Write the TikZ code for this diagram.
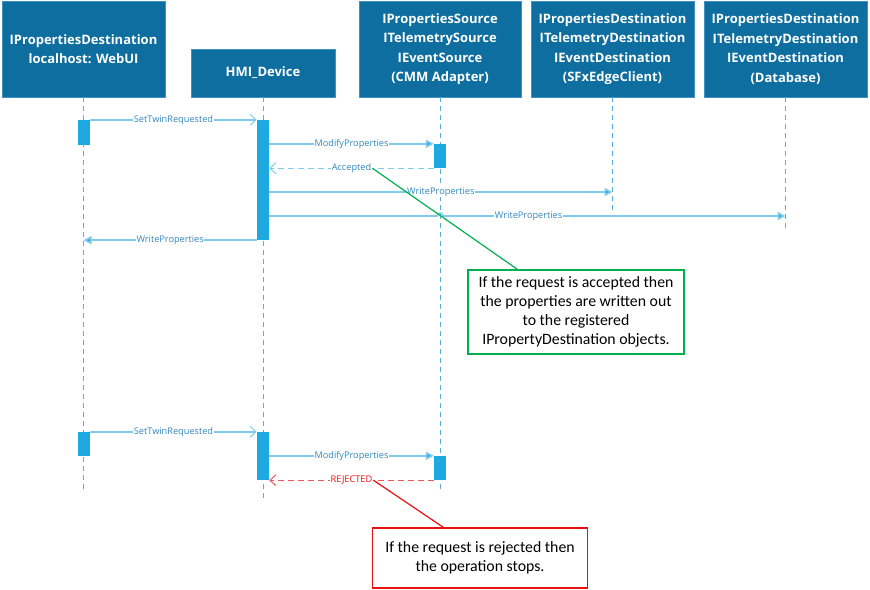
\documentclass[tikz,border=0pt]{standalone}
\usepackage{fontspec}
\setmainfont{Open Sans}
\newfontfamily\notefont{Carlito}
\usetikzlibrary{calc,arrows.meta,positioning}
\definecolor{hdblue}{HTML}{0D6E9F}
\definecolor{hdedge}{HTML}{3D92C2}
\definecolor{actblue}{HTML}{1FA9E1}
\definecolor{msgblue}{HTML}{7FCBEC}
\definecolor{lifeblue}{HTML}{5AAED8}
\definecolor{lblblue}{HTML}{3388C0}
\definecolor{notegreen}{HTML}{00B050}
\definecolor{notered}{HTML}{E81010}

\begin{document}
\begin{tikzpicture}[x=1pt, y=-1pt,
  head/.style={fill=hdblue, draw=hdedge, line width=0.6pt, text=white, align=center,
    font=\fontsize{13}{19.5}\selectfont\bfseries, inner sep=0pt},
  act/.style={fill=actblue, draw=none, minimum width=12pt, inner sep=0pt},
  life/.style={lifeblue, line width=0.8pt, dash pattern=on 5pt off 4pt},
  msg/.style={msgblue, line width=1.6pt, -{Triangle[length=8pt, width=8pt, fill=actblue]}},
  req/.style={msgblue, line width=1.6pt, -{Straight Barb[length=6pt, width=11pt, line width=1pt]}},
  ret/.style={msgblue, line width=1.2pt, dash pattern=on 6pt off 4pt,
    -{Straight Barb[length=6pt, width=11pt, line width=1pt]}},
  lbl/.style={fill=white, text=lblblue, font=\fontsize{9.2}{10}\selectfont, inner sep=0.5pt},
  note/.style={fill=white, line width=1.5pt, align=center, inner sep=0pt,
    font=\notefont\fontsize{15.8}{19}\selectfont, text=black}
]
  \useasboundingbox (0,0) rectangle (870,589);

  % participants
  \node[head, minimum width=163pt, minimum height=96pt] (web) at (83.5,49)
    {IPropertiesDestination\\localhost: WebUI};
  \node[head, minimum width=144pt, minimum height=48pt] (hmi) at (263,73) {HMI\_Device};
  \node[head, minimum width=162pt, minimum height=96pt] (cmm) at (440,49)
    {IPropertiesSource\\ITelemetrySource\\IEventSource\\(CMM Adapter)};
  \node[head, minimum width=163pt, minimum height=96pt] (sfx) at (612.5,49)
    {IPropertiesDestination\\ITelemetryDestination\\IEventDestination\\(SFxEdgeClient)};
  \node[head, minimum width=163pt, minimum height=96pt] (db) at (785.5,49)
    {IPropertiesDestination\\ITelemetryDestination\\IEventDestination\\(Database)};

  % lifelines
  \draw[life] (web.south) -- ++(0,395);
  \draw[life] (hmi.south) -- ++(0,403);
  \draw[life] (cmm.south) -- ++(0,395);
  \draw[life] (sfx.south) -- ++(0,113);
  \draw[life] (db.south) -- ++(0,131);

  % activations, accepted case
  \node[act, minimum height=25pt] (webA) at (84,132.5) {};
  \node[act, minimum height=120pt] (hmiA) at (263,180) {};
  \node[act, minimum height=24pt] (cmmA) at (440,156) {};
  \coordinate (sfxW) at (612.5,192);
  \coordinate (dbW) at (785.5,216);

  % activations, rejected case
  \node[act, minimum height=24pt] (webB) at (84,444) {};
  \node[act, minimum height=48pt] (hmiB) at (263,456) {};
  \node[act, minimum height=24pt] (cmmB) at (440,468) {};

  % messages, accepted case
  \draw[req] (webA.north east) -- node[lbl] {SetTwinRequested} (hmiA.north west);
  \draw[msg] (hmiA.east |- cmmA.north) -- node[lbl] {ModifyProperties} (cmmA.north west);
  \draw[ret] (cmmA.south west) -- node[lbl] (acc) {Accepted} (hmiA.east |- cmmA.south);
  \draw[msg] (hmiA.east |- sfxW) -- node[lbl] {WriteProperties} (sfxW);
  \draw[msg] (hmiA.east |- dbW) -- (437,216) arc[start angle=180, end angle=360, radius=3]
    -- node[lbl, pos=0.25] {WriteProperties} (dbW);
  \draw[msg] (hmiA.south west) -- node[lbl] {WriteProperties} (hmiA.south west -| web.south);

  % messages, rejected case
  \draw[req] (webB.north east) -- node[lbl] {SetTwinRequested} (hmiB.north west);
  \draw[msg] (hmiB.east |- cmmB.north) -- node[lbl] {ModifyProperties} (cmmB.north west);
  \draw[ret, notered!70] (cmmB.south west) -- node[lbl, text=notered] (rej) {REJECTED}
    (hmiB.east |- cmmB.south);

  % notes
  \node[note, draw=notegreen, minimum width=216pt, minimum height=84pt] (okNote) at (576,312)
    {If the request is accepted then\\the properties are written out\\to the registered\\IPropertyDestination objects.};
  \node[note, draw=notered, minimum width=215pt, minimum height=60pt] (rejNote) at (480,558)
    {If the request is rejected then\\the operation stops.};
  \draw[notegreen, line width=1.2pt] (acc.east) -- ($(okNote.north west)!0.23!(okNote.north east)$);
  \draw[notered, line width=1.2pt] (rej.east) -- ($(rejNote.north west)!0.33!(rejNote.north east)$);
\end{tikzpicture}
\end{document}
